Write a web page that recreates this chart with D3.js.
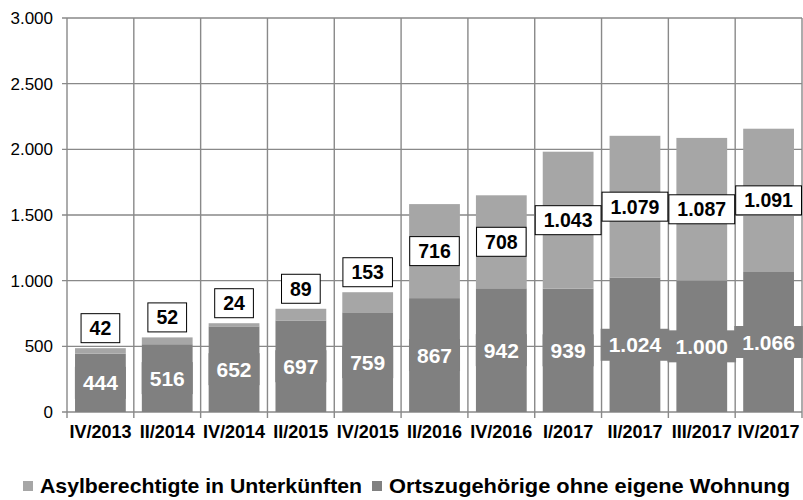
<!DOCTYPE html>
<html>
<head>
<meta charset="utf-8">
<script src="https://cdn.jsdelivr.net/npm/d3@7"></script>
<style>
  body { margin: 0; background: #fff; }
  svg { display: block; font-family: "Liberation Sans", Arial, sans-serif; }
</style>
</head>
<body>
<svg id="chart" width="803" height="500"></svg>
<script>
// data
var quarters = ["IV/2013", "II/2014", "IV/2014", "II/2015", "IV/2015", "II/2016",
                "IV/2016", "I/2017", "II/2017", "III/2017", "IV/2017"];
var ortszugehoerige = [444, 516, 652, 697, 759, 867, 942, 939, 1024, 1000, 1066];
var asylberechtigte = [42, 52, 24, 89, 153, 716, 708, 1043, 1079, 1087, 1091];
var yTicks = [0, 500, 1000, 1500, 2000, 2500, 3000];
var seriesNames = ["Asylberechtigte in Unterkünften", "Ortszugehörige ohne eigene Wohnung"];

var colDark = "#808080", colLight = "#a6a6a6", gridCol = "#898989";

var de = d3.formatLocale({decimal: ",", thousands: ".", grouping: [3], currency: ["", " €"]});
var fmt = de.format(",d");

var svg = d3.select("#chart");
// plot area (note: "top" is reserved on window, so use plot* names)
var plotLeft = 67, plotRight = 802, plotTop = 18, plotBottom = 412;

var x = d3.scaleBand()
    .domain(quarters)
    .range([plotLeft, plotRight])
    .paddingInner(0.24)
    .paddingOuter(0.12);

var y = d3.scaleLinear()
    .domain([0, 3000])
    .range([plotBottom, plotTop]);

var step = x.step();

// horizontal grid
svg.append("g").selectAll("line")
    .data(yTicks)
    .enter().append("line")
    .attr("x1", plotLeft - 5).attr("x2", plotRight)
    .attr("y1", function(d) { return y(d); })
    .attr("y2", function(d) { return y(d); })
    .attr("stroke", gridCol).attr("stroke-width", 1.4);

// vertical grid at category boundaries (with tick below baseline)
var bounds = d3.range(quarters.length + 1);
svg.append("g").selectAll("line")
    .data(bounds)
    .enter().append("line")
    .attr("x1", function(i) { return plotLeft + i * step; })
    .attr("x2", function(i) { return plotLeft + i * step; })
    .attr("y1", plotTop).attr("y2", plotBottom + 6)
    .attr("stroke", gridCol).attr("stroke-width", 1.4);

// y tick labels
svg.append("g").selectAll("text")
    .data(yTicks)
    .enter().append("text")
    .attr("x", 53)
    .attr("y", function(d) { return y(d); })
    .attr("dy", "0.35em")
    .attr("text-anchor", "end")
    .style("font-size", "17px")
    .style("fill", "#000")
    .text(function(d) { return fmt(d); });

// x labels
svg.append("g").selectAll("text")
    .data(quarters)
    .enter().append("text")
    .attr("x", function(d) { return x(d) + x.bandwidth() / 2; })
    .attr("y", 438)
    .attr("text-anchor", "middle")
    .style("font-size", "18px")
    .style("font-weight", "bold")
    .text(function(d) { return d; });

var rows = quarters.map(function(q, i) {
    return {q: q, low: ortszugehoerige[i], high: asylberechtigte[i]};
});

var bars = svg.append("g");
// bottom segment
bars.selectAll("rect.low")
    .data(rows)
    .enter().append("rect")
    .attr("class", "low")
    .attr("x", function(d) { return x(d.q); })
    .attr("width", x.bandwidth())
    .attr("y", function(d) { return y(d.low); })
    .attr("height", function(d) { return y(0) - y(d.low); })
    .style("fill", colDark);
// top segment
bars.selectAll("rect.high")
    .data(rows)
    .enter().append("rect")
    .attr("class", "high")
    .attr("x", function(d) { return x(d.q); })
    .attr("width", x.bandwidth())
    .attr("y", function(d) { return y(d.low + d.high); })
    .attr("height", function(d) { return y(d.low) - y(d.low + d.high); })
    .style("fill", colLight);

// labels with boxes
function addLabel(g, cx, cy, txt, size, fill, stroke, color, padX, h) {
    var t = g.append("text")
        .attr("x", cx).attr("y", cy)
        .attr("dy", "0.36em")
        .attr("text-anchor", "middle")
        .style("font-size", size + "px")
        .style("font-weight", "bold")
        .style("fill", color)
        .text(txt);
    var w = t.node().getComputedTextLength() + padX * 2;
    g.insert("rect", "text")
        .attr("x", cx - w / 2).attr("y", cy - h / 2)
        .attr("width", w).attr("height", h)
        .style("fill", fill)
        .style("stroke", stroke);
}

var labels = svg.append("g");
rows.forEach(function(d) {
    var cx = x(d.q) + x.bandwidth() / 2;
    var g = labels.append("g");
    addLabel(g, cx, (y(0) + y(d.low)) / 2, fmt(d.low), 21, colDark, "none", "#fff", 8, 32);
});
rows.forEach(function(d) {
    var cx = x(d.q) + x.bandwidth() / 2;
    var yTop = y(d.low + d.high), yMid = y(d.low);
    // short segments get their label above the bar
    var cy = (yMid - yTop) < 40 ? yTop - 20 : (yTop + yMid) / 2;
    var g = labels.append("g");
    addLabel(g, cx, cy, fmt(d.high), 19.5, "#fff", "#000", "#000", 8.5, 29);
});

// legend
var legend = svg.append("g");
var legendX = [23, 372];
var legendW = [322, 401];
var legendCols = [colLight, colDark];
seriesNames.forEach(function(name, i) {
    legend.append("rect")
        .attr("x", legendX[i]).attr("y", 481)
        .attr("width", 10).attr("height", 10)
        .style("fill", legendCols[i]);
    legend.append("text")
        .attr("x", legendX[i] + 17).attr("y", 493)
        .attr("textLength", legendW[i])
        .attr("lengthAdjust", "spacingAndGlyphs")
        .style("font-size", "21px")
        .style("font-weight", "bold")
        .text(name);
});
</script>
</body>
</html>
